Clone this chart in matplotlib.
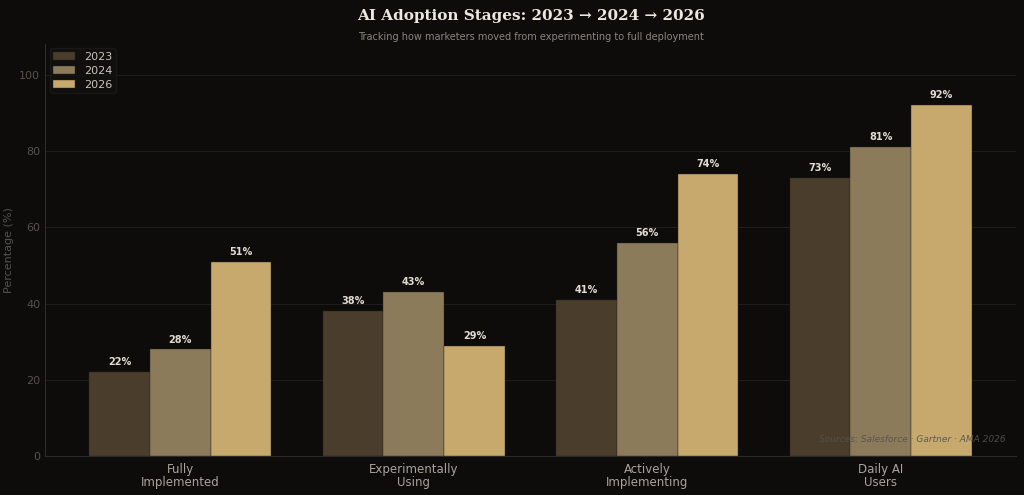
import matplotlib.pyplot as plt
import numpy as np

categories = ['Fully\nImplemented', 'Experimentally\nUsing', 'Actively\nImplementing', 'Daily AI\nUsers']
years = ['2023', '2024', '2026']
vals_2023 = [22, 38, 41, 73]
vals_2024 = [28, 43, 56, 81]
vals_2026 = [51, 29, 74, 92]

colors = ['#4a3d2b', '#8b7b5a', '#c8a96d']
bg = '#0d0c0b'

fig, ax = plt.subplots(figsize=(10.24, 4.95), dpi=100)
fig.patch.set_facecolor(bg)
ax.set_facecolor(bg)

x = np.arange(len(categories))
w = 0.26
series = [vals_2023, vals_2024, vals_2026]
for i, (vals, yr) in enumerate(zip(series, years)):
    bars = ax.bar(x + (i - 1) * w, vals, w, color=colors[i], label=yr, zorder=3,
                  edgecolor='#2a251d', linewidth=0.3)
    for b, v in zip(bars, vals):
        ax.text(b.get_x() + b.get_width() / 2, v + 1.3, f'{v}%', ha='center', va='bottom',
                fontsize=7, fontweight='bold', color='#e0dcd2', zorder=4)

ax.set_ylim(0, 108)
ax.set_yticks([0, 20, 40, 60, 80, 100])
ax.set_xticks(x)
ax.set_xticklabels(categories, fontsize=8.5, color='#a8a49c', linespacing=1.0)
ax.tick_params(axis='y', colors='#55524c', labelsize=8, length=0)
ax.tick_params(axis='x', length=0, pad=5)
ax.set_ylabel('Percentage (%)', color='#55524c', fontsize=8)
ax.grid(axis='y', color='#1f1d1b', linewidth=0.8, zorder=0)
for s in ['top', 'right']:
    ax.spines[s].set_visible(False)
for s in ['left', 'bottom']:
    ax.spines[s].set_color('#2e2c29')

leg = ax.legend(loc='upper left', fontsize=8, frameon=True, facecolor='#111010',
                edgecolor='#1c1b19', labelcolor='#c8c4bc', handlelength=2.0,
                handleheight=0.8, handletextpad=0.8, borderpad=0.3,
                borderaxespad=0.4, labelspacing=0.35)

ax.text(0.99, 0.03, 'Sources: Salesforce · Gartner · AMA 2026', transform=ax.transAxes,
        ha='right', va='bottom', fontsize=6.5, style='italic', color='#55524c', alpha=0.9, zorder=5)

fig.suptitle('AI Adoption Stages: 2023 → 2024 → 2026', fontsize=11, fontweight='bold',
             family='DejaVu Serif', color='#ece8de', x=0.519, y=0.982)
fig.text(0.519, 0.92, 'Tracking how marketers moved from experimenting to full deployment',
         ha='center', fontsize=7, color='#8a867e')

fig.subplots_adjust(left=0.044, right=0.992, top=0.911, bottom=0.078)
fig.savefig('out.png', dpi=100, facecolor=bg)
